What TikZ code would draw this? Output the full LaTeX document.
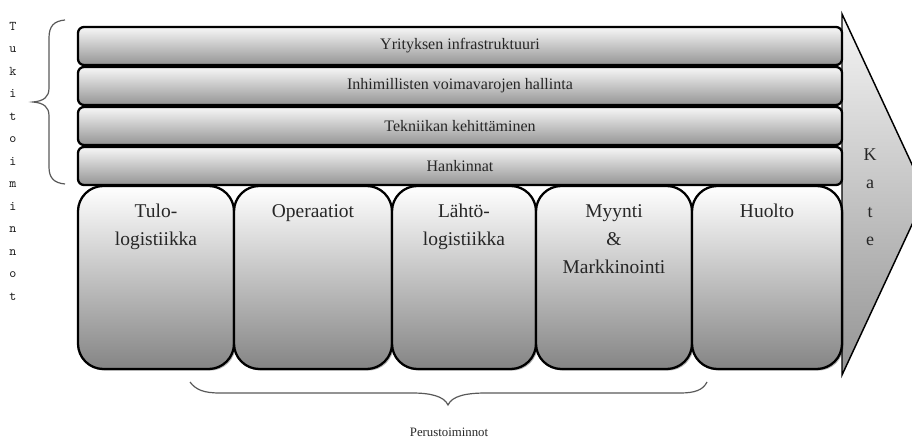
\documentclass[tikz,border=0pt]{standalone}
\usepackage{fontspec}
\setmainfont{Liberation Serif}
\usetikzlibrary{shadows}
\begin{document}
\begin{tikzpicture}[x=0.75pt,y=-0.75pt,
  barbox/.style={draw=black,line width=1.7pt,rounded corners=4.5pt,
    top color=white!97!black,middle color=black!9,bottom color=black!42,
    minimum width=573pt,minimum height=28.5pt,inner sep=0pt,
    text=black!85,font=\fontsize{12}{14}\selectfont},
  procbox/.style={draw=black,line width=1.7pt,rounded corners=19pt,
    top color=white,middle color=black!12,bottom color=black!48,
    minimum height=137.25pt,inner sep=0pt,
    drop shadow={shadow xshift=1.2pt,shadow yshift=-1.2pt,opacity=0.3,fill=black}},
  proctext/.style={anchor=north,inner sep=0pt,align=center,text=black!85,
    font=\fontsize{14.6}{21}\selectfont},
  bracestyle/.style={draw=black!65,line width=0.9pt},
  arrowstyle/.style={draw=black,line width=1.1pt,top color=black!4,bottom color=black!42}
]
\useasboundingbox (0,0) rectangle (912,441);
\clip (0,0) rectangle (912,441);

% big arrow (Kate)
\coordinate (atop) at (842,14);
\coordinate (atip) at (926,194.5);
\coordinate (abot) at (842,375);
\path[arrowstyle] (atop) -- (atip) -- (abot) -- cycle;
\node[anchor=north,inner sep=0pt,align=center,text=black!85,
  font=\fontsize{13.5}{21.4}\selectfont] (kate) at (870,148) {K\\a\\t\\e};

% support activity bars
\node[barbox] (bar1) at (460,46) {Yrityksen infrastruktuuri};
\node[barbox] (bar2) at (460,86) {Inhimillisten voimavarojen hallinta};
\node[barbox] (bar3) at (460,126) {Tekniikan kehittäminen};
\node[barbox] (bar4) at (460,166) {Hankinnat};

% primary activity boxes
\node[procbox,minimum width=117pt] (b1) at (156,277.5) {};
\node[procbox,minimum width=118.5pt] (b2) at (313,277.5) {};
\node[procbox,minimum width=108pt] (b3) at (464,277.5) {};
\node[procbox,minimum width=117pt] (b4) at (614,277.5) {};
\node[procbox,minimum width=112.5pt] (b5) at (767,277.5) {};

\node[proctext] (t1) at ([yshift=-14.25pt]b1.north) {Tulo-\\logistiikka};
\node[proctext] (t2) at ([yshift=-14.25pt]b2.north) {Operaatiot};
\node[proctext] (t3) at ([yshift=-14.25pt]b3.north) {Lähtö-\\logistiikka};
\node[proctext] (t4) at ([yshift=-14.25pt]b4.north) {Myynti\\\&\\Markkinointi};
\node[proctext] (t5) at ([yshift=-14.25pt]b5.north) {Huolto};

% left brace and label
\path[bracestyle] (65,20) .. controls (54,21) and (49,26) .. (49,38) -- (49,88)
  .. controls (49,97) and (44,101) .. (33,102)
  .. controls (44,103) and (49,107) .. (49,116) -- (49,167)
  .. controls (49,178) and (54,183) .. (65,184);
\node[anchor=north,inner sep=0pt,align=center,text=black!90,
  font=\ttfamily\fontsize{10}{16.875}\selectfont] (tuki) at (13,22)
  {T\\u\\k\\i\\t\\o\\i\\m\\i\\n\\n\\o\\t};

% bottom brace and label
\path[bracestyle] (190,382) .. controls (196,390) and (204,393) .. (220,393) -- (412,393)
  .. controls (430,393) and (444,396) .. (448,405)
  .. controls (452,396) and (466,393) .. (486,393) -- (680,393)
  .. controls (695,393) and (703,390) .. (707,382);
\node[inner sep=0pt,text=black!85,font=\fontsize{9.6}{11}\selectfont] (perus) at (449,432) {Perustoiminnot};
\end{tikzpicture}
\end{document}
